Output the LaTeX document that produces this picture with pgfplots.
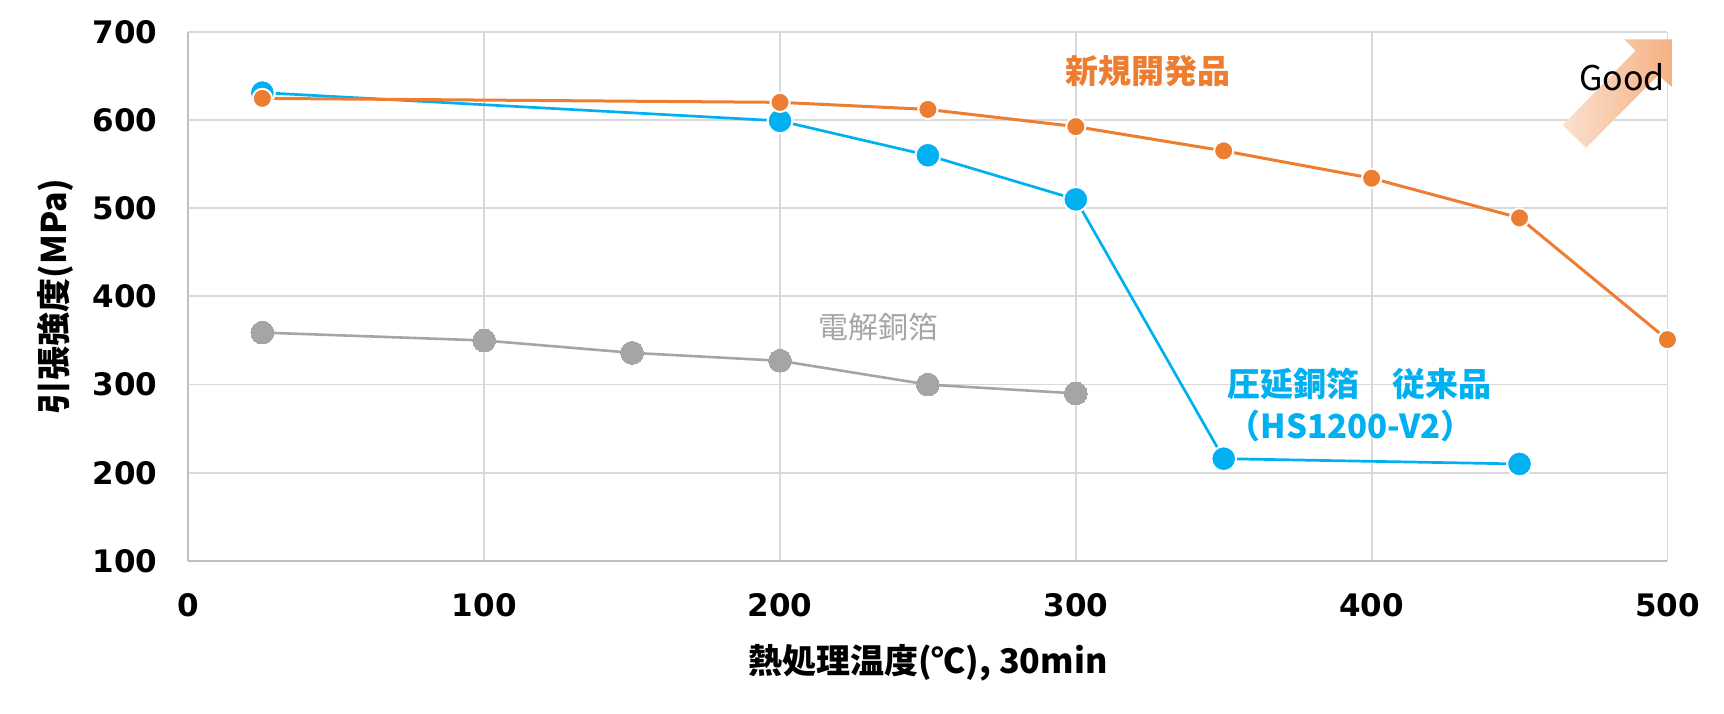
\documentclass[border=0pt]{standalone}
\usepackage{fontspec}
\setmainfont{DejaVu Sans}
\newfontfamily\jp{Noto Sans CJK JP}
\usepackage{pgfplots}
\pgfplotsset{compat=1.18}
\definecolor{cblue}{HTML}{00B0F0}
\definecolor{corange}{HTML}{ED7D31}
\definecolor{cgray}{HTML}{A5A5A5}
\definecolor{cgrid}{HTML}{D9D9D9}
\definecolor{caxis}{HTML}{BFBFBF}
\definecolor{arrlight}{HTML}{FBE0CE}
\definecolor{arrdark}{HTML}{F4B183}
\begin{document}
\begin{tikzpicture}
\begin{axis}[
  scale only axis,
  width=739.5pt, height=264.6pt,
  xmin=0, xmax=500, ymin=100, ymax=700,
  xtick={0,100,...,500}, ytick={100,200,...,700},
  grid=major,
  grid style={cgrid, line width=0.9pt},
  axis lines=left,
  axis line style={-, caxis, line width=1pt},
  major tick length=0pt,
  clip=false,
  /pgf/number format/assume math mode=true,
  ticklabel style={font=\bfseries\fontsize{15.5}{18}\selectfont, text=black},
  xticklabel style={yshift=-12.5pt},
  yticklabel style={xshift=-12pt},
  xlabel={熱処理温度(℃), 30min},
  ylabel={引張強度(MPa)},
  xlabel style={font=\jp\bfseries\fontsize{17}{20}\selectfont, at={(axis description cs:0.5,-0.192)}, anchor=center},
  ylabel style={font=\jp\bfseries\fontsize{17}{20}\selectfont, at={(axis description cs:-0.09,0.5)}, anchor=center},
]
% arrow
\shade[left color=arrlight, right color=arrdark]
  (axis cs:464.6,594.2) -- (axis cs:472.5,568.5) -- (axis cs:496.9,650.9) -- (axis cs:501.5,637.6)
  -- (axis cs:501.5,691.4) -- (axis cs:485.4,691.4) -- (axis cs:489.2,678.5) -- cycle;
\node[font=\jp\fontsize{17}{20}\selectfont] at (axis cs:484.6,649) {Good};

\addplot[cgray, line width=1.3pt, mark=*, mark size=5.7pt, mark options={draw=cgray, fill=cgray, line width=0pt}]
  coordinates {(25,359) (100,350) (150,336) (200,327) (250,300) (300,290)};
\addplot[cblue, line width=1.35pt, mark=*, mark size=6.2pt, mark options={draw=white, fill=cblue, line width=1pt}]
  coordinates {(25,631) (200,599) (250,560) (300,510) (350,216) (450,210)};
\addplot[corange, line width=1.5pt, mark=*, mark size=4.8pt, mark options={draw=white, fill=corange, line width=1pt}]
  coordinates {(25,624.5) (200,620) (250,612) (300,592.5) (350,565) (400,534) (450,489) (500,351)};

\node[font=\jp\bfseries\fontsize{16.5}{19}\selectfont, text=corange] at (axis cs:324.4,655.8) {新規開発品};
\node[font=\jp\fontsize{15}{18}\selectfont, text=cgray] at (axis cs:233.3,365.5) {電解銅箔};
\node[font=\jp\bfseries\fontsize{16.5}{19}\selectfont, text=cblue, anchor=west, inner sep=0pt] at (axis cs:351.2,300.2) {圧延銅箔　従来品};
\node[font=\jp\bfseries\fontsize{16.5}{19}\selectfont, text=cblue, anchor=west, inner sep=0pt] at (axis cs:351.2,253) {（HS1200-V2）};

\coordinate (bl) at (rel axis cs:0,0);
\coordinate (tr) at (rel axis cs:1,1);
\end{axis}
\pgfresetboundingbox
\path[use as bounding box] ([xshift=-94.2pt,yshift=-76.5pt]bl) rectangle ([xshift=28.3pt,yshift=15.9pt]tr);
\end{tikzpicture}
\end{document}
